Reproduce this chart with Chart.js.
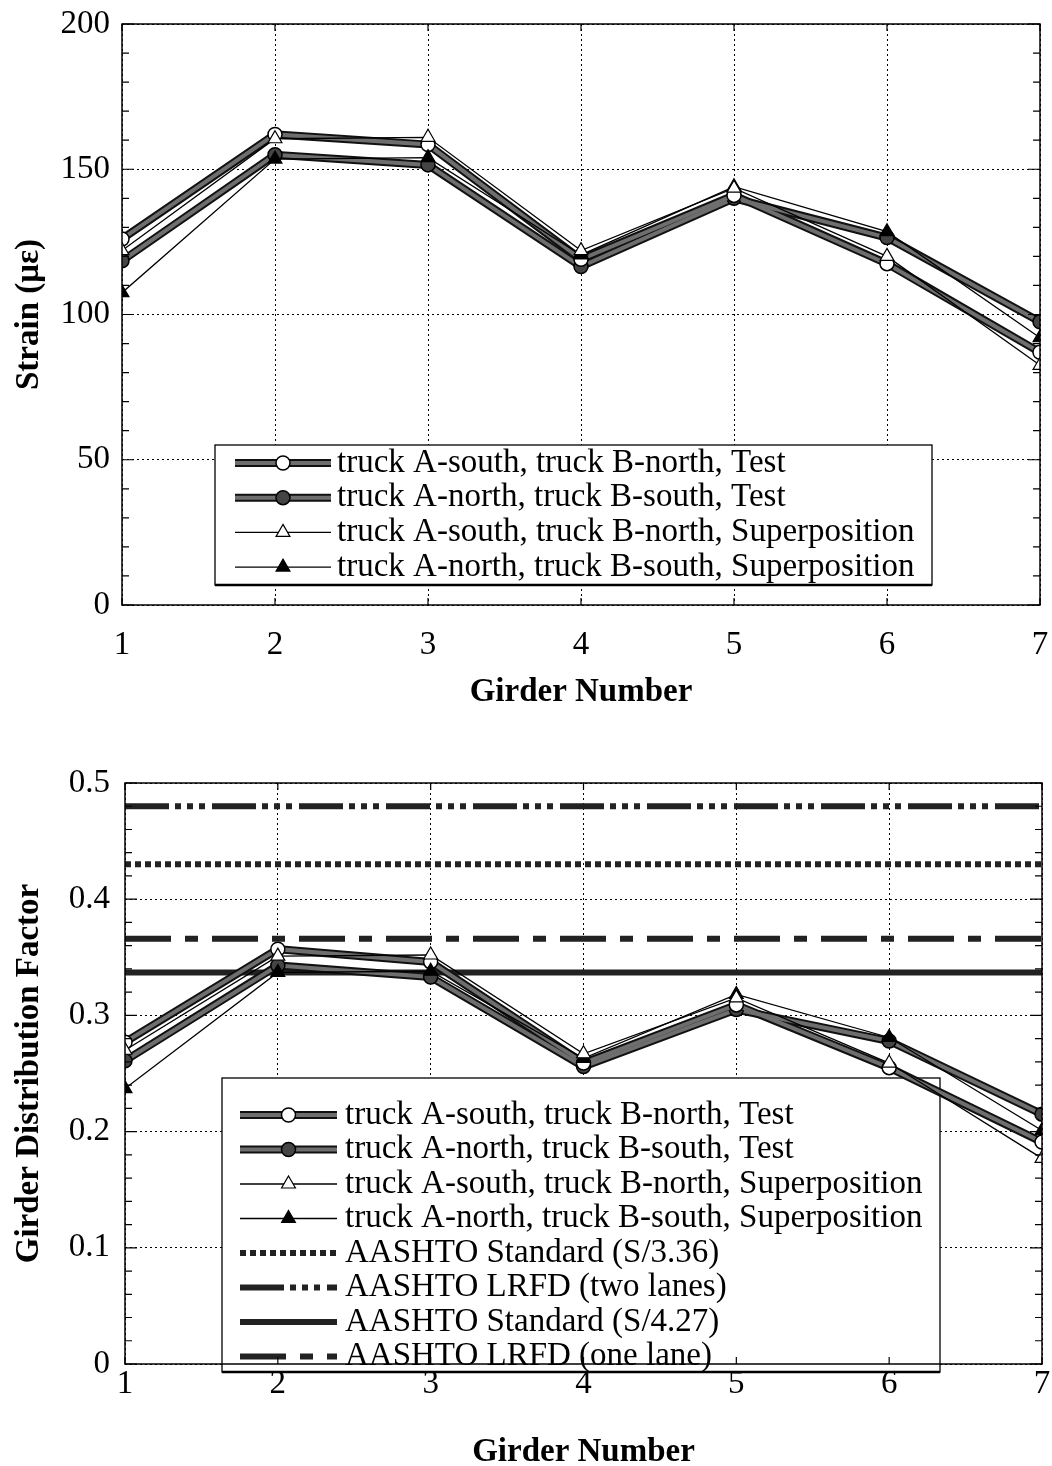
<!DOCTYPE html>
<html lang="en">
    <head>
        <meta charset="UTF-8">
        <title>Girder strain and distribution factor</title>
        <script src="https://cdn.jsdelivr.net/npm/chart.js"></script>
        <style>
            html, body {
                margin: 0;
                padding: 0;
                background: white;
                overflow: hidden;
            }
            .chart-box {
                position: absolute;
                left: 0;
                width: 1052px;
            }
            /* top canvas starts a bit above the page so the "200" label has room */
            #top-box { top: -10px; height: 740px; }
            #bottom-box { top: 730px; height: 736px; }
        </style>
    </head>
    <body>
        <div class="chart-box" id="top-box"><canvas id="strainChart"></canvas></div>
        <div class="chart-box" id="bottom-box"><canvas id="gdfChart"></canvas></div>
        <script>
            // girder numbers on the x axis
            const girders = [1, 2, 3, 4, 5, 6, 7];

            // strain (micro-strain), upper chart
            const strainSouthTest = [126, 162, 158.5, 119, 141, 117.5, 87];
            const strainNorthTest = [118.5, 155, 151.5, 116.5, 140, 126.5, 97.5];
            const strainSouthSup = [122, 160.5, 161, 122, 143.5, 120, 82.5];
            const strainNorthSup = [107.5, 153.5, 154, 120.5, 144, 128.5, 92];
            const strainTicks = [0, 50, 100, 150, 200];

            // girder distribution factor, lower chart
            const gdfSouthTest = [0.277, 0.357, 0.346, 0.259, 0.309, 0.255, 0.191];
            const gdfNorthTest = [0.261, 0.343, 0.333, 0.256, 0.305, 0.278, 0.215];
            const gdfSouthSup = [0.270, 0.351, 0.352, 0.267, 0.315, 0.259, 0.177];
            const gdfNorthSup = [0.237, 0.337, 0.338, 0.263, 0.318, 0.281, 0.201];
            const gdfTicks = [0, 0.1, 0.2, 0.3, 0.4, 0.5];

            // code values (constant across girders)
            const aashtoStd336 = 0.43;
            const lrfdTwoLanes = 0.48;
            const aashtoStd427 = 0.337;
            const lrfdOneLane = 0.366;

            const seriesNames = [
                'truck A-south, truck B-north, Test',
                'truck A-north, truck B-south, Test',
                'truck A-south, truck B-north, Superposition',
                'truck A-north, truck B-south, Superposition'
            ];
            const codeNames = [
                'AASHTO Standard (S/3.36)',
                'AASHTO LRFD (two lanes)',
                'AASHTO Standard (S/4.27)',
                'AASHTO LRFD (one lane)'
            ];

            const FONT = 'Liberation Serif, Times New Roman, serif';
            const FS = 33;

            function pts(values) {
                return girders.map(function(g, i) { return {x: g, y: values[i]}; });
            }

            function flat(value) {
                return girders.map(function(g) { return {x: g, y: value}; });
            }

            // a test series is a wide black line with a grey core, so two datasets
            function testSeries(label, values, filled) {
                return [{
                    data: pts(values),
                    borderColor: '#111',
                    borderWidth: 8,
                    pointRadius: 0,
                    order: 20
                }, {
                    label: label,
                    data: pts(values),
                    borderColor: '#6e6e6e',
                    borderWidth: 4,
                    outlineWidth: 8,
                    pointStyle: 'circle',
                    pointRadius: 7,
                    pointBorderWidth: 1.5,
                    pointBorderColor: '#000',
                    pointBackgroundColor: filled ? '#444' : '#fff',
                    order: 10
                }];
            }

            function supSeries(label, values, filled) {
                return {
                    label: label,
                    data: pts(values),
                    borderColor: '#000',
                    borderWidth: 1.3,
                    pointStyle: 'triangle',
                    pointRadius: 8,
                    pointBorderWidth: 1.2,
                    pointBorderColor: '#000',
                    pointBackgroundColor: filled ? '#000' : '#fff',
                    order: 5
                };
            }

            function codeLine(label, value, dash) {
                return {
                    label: label,
                    data: flat(value),
                    borderColor: '#222',
                    borderWidth: 6,
                    borderDash: dash,
                    pointRadius: 0,
                    order: 30
                };
            }

            // legend drawn inside the plot, before the data lines
            const boxLegend = {
                id: 'boxLegend',
                beforeDatasetsDraw(chart, args, o) {
                    const ctx = chart.ctx;
                    ctx.save();
                    ctx.fillStyle = '#fff';
                    ctx.fillRect(o.left, o.top, o.right - o.left, o.bottom - o.top);
                    ctx.strokeStyle = '#000';
                    ctx.lineWidth = 1.3;
                    ctx.strokeRect(o.left, o.top, o.right - o.left, o.bottom - o.top);
                    ctx.lineWidth = 2.5;
                    ctx.beginPath();
                    ctx.moveTo(o.left, o.bottom);
                    ctx.lineTo(o.right, o.bottom);
                    ctx.stroke();

                    const items = chart.data.datasets.filter(function(d) { return d.label; });
                    const mid = (o.lineX0 + o.lineX1) / 2;
                    items.forEach(function(d, i) {
                        const y = o.rowY0 + i * o.rowGap;
                        ctx.setLineDash([]);
                        if (d.outlineWidth) {
                            ctx.strokeStyle = '#111';
                            ctx.lineWidth = d.outlineWidth;
                            ctx.beginPath();
                            ctx.moveTo(o.lineX0, y);
                            ctx.lineTo(o.lineX1, y);
                            ctx.stroke();
                        }
                        ctx.strokeStyle = d.borderColor;
                        ctx.lineWidth = d.borderWidth;
                        ctx.setLineDash(d.borderDash || []);
                        ctx.beginPath();
                        ctx.moveTo(o.lineX0, y);
                        ctx.lineTo(o.lineX1, y);
                        ctx.stroke();
                        ctx.setLineDash([]);
                        if (d.pointRadius) {
                            ctx.fillStyle = d.pointBackgroundColor;
                            ctx.strokeStyle = d.pointBorderColor;
                            ctx.lineWidth = d.pointBorderWidth;
                            Chart.helpers.drawPoint(ctx, {
                                pointStyle: d.pointStyle,
                                radius: d.pointRadius,
                                borderWidth: d.pointBorderWidth,
                                rotation: 0
                            }, mid, y);
                        }
                        ctx.fillStyle = '#000';
                        ctx.font = o.fontSize + 'px ' + FONT;
                        ctx.textBaseline = 'middle';
                        ctx.textAlign = 'left';
                        ctx.fillText(d.label, o.textX, y);
                    });
                    ctx.restore();
                }
            };

            // solid frame plus inward tick marks on all four sides
            const frameTicks = {
                id: 'frameTicks',
                afterDatasetsDraw(chart, args, o) {
                    const ctx = chart.ctx;
                    const a = chart.chartArea;
                    const xs = chart.scales.x;
                    const ys = chart.scales.y;
                    ctx.save();
                    ctx.strokeStyle = '#000';
                    ctx.lineWidth = 1.5;
                    ctx.strokeRect(a.left, a.top, a.right - a.left, a.bottom - a.top);
                    ctx.lineWidth = 1.2;
                    ctx.beginPath();
                    const n = Math.round((ys.max - ys.min) / o.minor);
                    for (let k = 0; k <= n; k++) {
                        const py = ys.getPixelForValue(ys.min + k * o.minor);
                        const len = (k % o.perMajor === 0) ? 12 : 7;
                        ctx.moveTo(a.left, py); ctx.lineTo(a.left + len, py);
                        ctx.moveTo(a.right, py); ctx.lineTo(a.right - len, py);
                    }
                    girders.forEach(function(g) {
                        const px = xs.getPixelForValue(g);
                        ctx.moveTo(px, a.bottom); ctx.lineTo(px, a.bottom - 7);
                        ctx.moveTo(px, a.top); ctx.lineTo(px, a.top + 7);
                    });
                    ctx.stroke();
                    ctx.restore();
                }
            };

            // label lineHeight pushes the tick numbers down without adding side padding
            function xAxis(height, labelLineHeight, titlePad) {
                return {
                    type: 'linear',
                    min: 1,
                    max: 7,
                    afterFit: function(s) { s.height = height; },
                    afterBuildTicks: function(s) { s.ticks = girders.map(function(g) { return {value: g}; }); },
                    grid: { color: '#000', lineWidth: 1, drawTicks: false },
                    border: { display: false, dash: [2, 3] },
                    ticks: {
                        color: '#000',
                        padding: 1,
                        maxRotation: 0,
                        font: { family: FONT, size: FS, lineHeight: labelLineHeight }
                    },
                    title: {
                        display: true,
                        text: 'Girder Number',
                        color: '#000',
                        padding: { top: 0, bottom: titlePad },
                        font: { family: FONT, size: FS, weight: 'bold', lineHeight: 0.8 }
                    }
                };
            }

            function yAxis(width, ticks, tickPad, title) {
                return {
                    min: ticks[0],
                    max: ticks[ticks.length - 1],
                    afterFit: function(s) { s.width = width; },
                    afterBuildTicks: function(s) { s.ticks = ticks.map(function(v) { return {value: v}; }); },
                    grid: { color: '#000', lineWidth: 1, drawTicks: false },
                    border: { display: false, dash: [2, 3] },
                    ticks: {
                        color: '#000',
                        padding: tickPad,
                        font: { family: FONT, size: FS },
                        callback: function(v) { return String(v); }
                    },
                    title: {
                        display: true,
                        text: title,
                        color: '#000',
                        padding: { top: 16, bottom: 0 },
                        font: { family: FONT, size: FS, weight: 'bold', lineHeight: 0.8 }
                    }
                };
            }

            const strainChart = new Chart(document.getElementById('strainChart'), {
                type: 'line',
                data: {
                    datasets: [].concat(
                        testSeries(seriesNames[0], strainSouthTest, false),
                        testSeries(seriesNames[1], strainNorthTest, true),
                        [supSeries(seriesNames[2], strainSouthSup, false),
                         supSeries(seriesNames[3], strainNorthSup, true)]
                    )
                },
                options: {
                    responsive: true,
                    maintainAspectRatio: false,
                    animation: false,
                    layout: { padding: { left: 0, right: 12, top: 34, bottom: 0 } },
                    plugins: {
                        legend: { display: false },
                        tooltip: { enabled: false },
                        boxLegend: {
                            left: 215, right: 932, top: 455, bottom: 595,
                            rowY0: 473, rowGap: 34.7,
                            lineX0: 235, lineX1: 331, textX: 337, fontSize: FS
                        },
                        frameTicks: { minor: 10, perMajor: 5 }
                    },
                    scales: {
                        x: xAxis(125, 2.36, 24),
                        y: yAxis(122, strainTicks, 12, 'Strain (\u03bc\u03b5)')
                    }
                },
                plugins: [boxLegend, frameTicks]
            });

            const gdfChart = new Chart(document.getElementById('gdfChart'), {
                type: 'line',
                data: {
                    datasets: [].concat(
                        testSeries(seriesNames[0], gdfSouthTest, false),
                        testSeries(seriesNames[1], gdfNorthTest, true),
                        [supSeries(seriesNames[2], gdfSouthSup, false),
                         supSeries(seriesNames[3], gdfNorthSup, true),
                         codeLine(codeNames[0], aashtoStd336, [6, 4]),
                         codeLine(codeNames[1], lrfdTwoLanes, [44, 6, 6, 6, 6, 6, 6, 7]),
                         codeLine(codeNames[2], aashtoStd427, []),
                         codeLine(codeNames[3], lrfdOneLane, [46, 14, 13, 14])]
                    )
                },
                options: {
                    responsive: true,
                    maintainAspectRatio: false,
                    animation: false,
                    layout: { padding: { left: 0, right: 10, top: 53, bottom: 0 } },
                    plugins: {
                        legend: { display: false },
                        tooltip: { enabled: false },
                        boxLegend: {
                            left: 222, right: 940, top: 348, bottom: 642,
                            rowY0: 385, rowGap: 34.5,
                            lineX0: 240, lineX1: 337, textX: 345, fontSize: FS
                        },
                        frameTicks: { minor: 0.02, perMajor: 5 }
                    },
                    scales: {
                        x: xAxis(102, 1.2, 0),
                        y: yAxis(125, gdfTicks, 15, 'Girder Distribution Factor')
                    }
                },
                plugins: [boxLegend, frameTicks]
            });
        </script>
    </body>
</html>
